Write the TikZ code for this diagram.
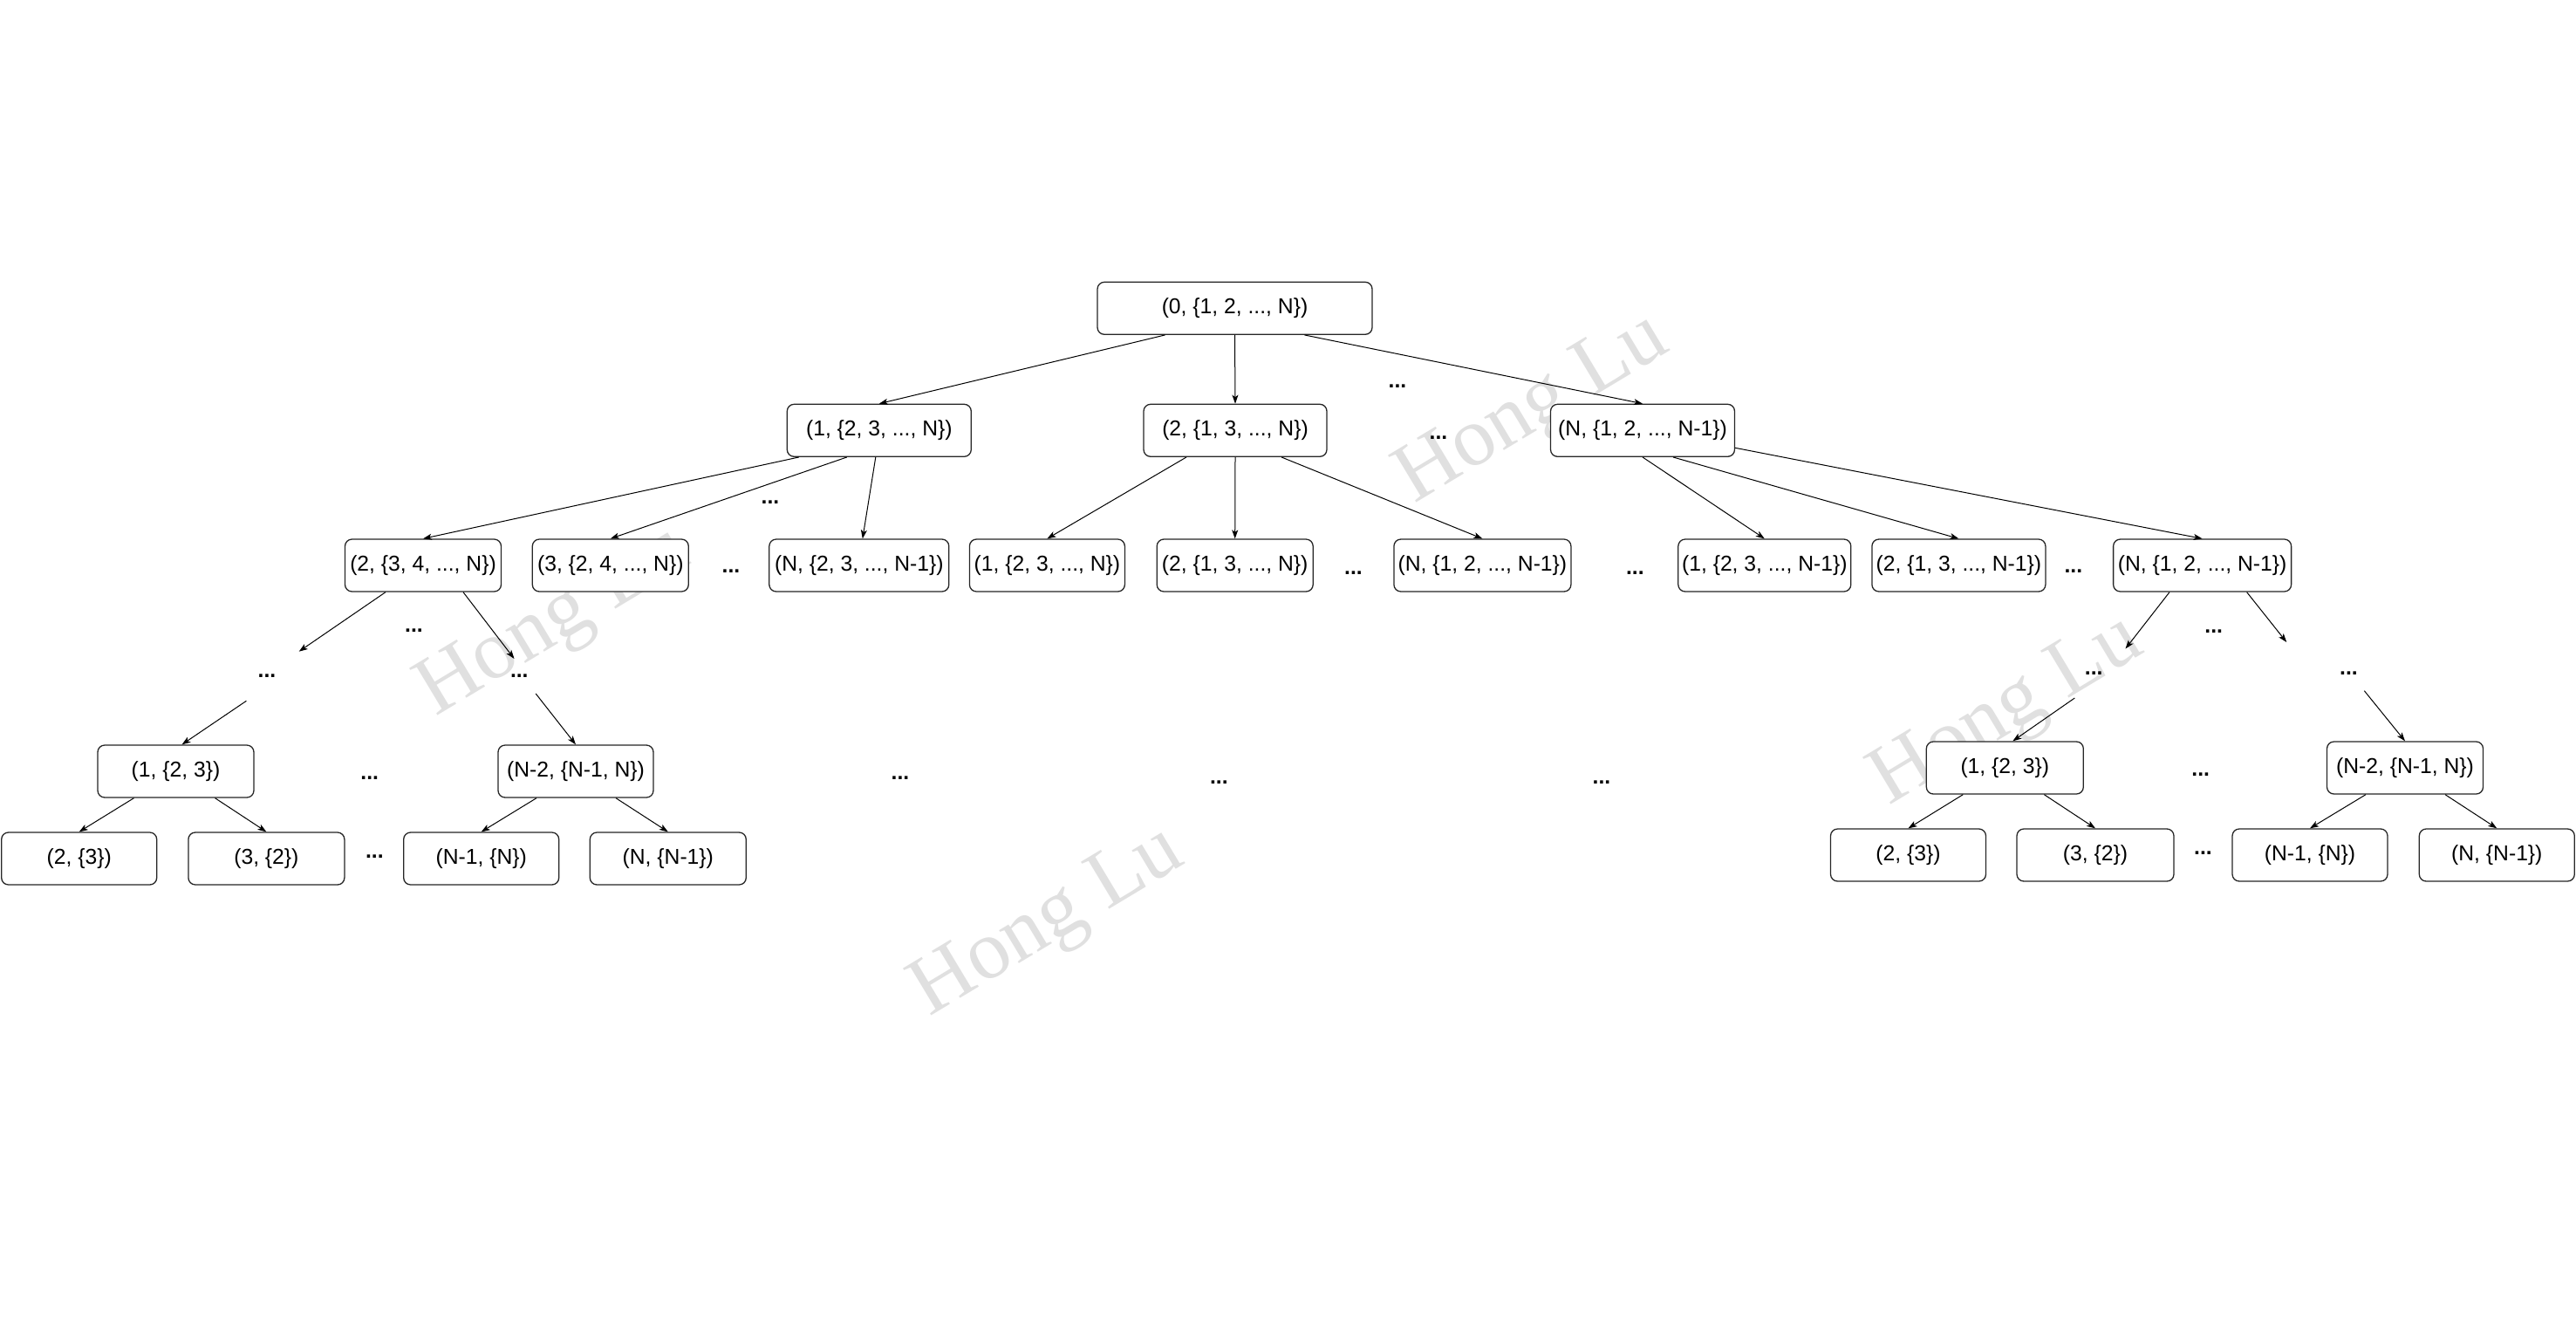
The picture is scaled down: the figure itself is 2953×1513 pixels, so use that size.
\documentclass[tikz,border=0pt]{standalone}
\usepackage{fontspec}
\setmainfont{Liberation Sans}
\newfontfamily\wmfont{Liberation Serif}
\usetikzlibrary{arrows.meta}
\begin{document}
\begin{tikzpicture}[x=1pt,y=-1pt,
  box/.style={draw=black!85, line width=1.3pt, rounded corners=8pt, fill=white,
    minimum height=60pt, inner sep=0pt, font=\fontsize{24.7}{30}\selectfont},
  dots/.style={font=\fontsize{24.7}{30}\selectfont\bfseries, inner sep=0pt},
  edge/.style={line width=1pt, draw=black, -{Stealth[length=10pt,width=7pt,inset=2.5pt]}},
  wm/.style={font=\fontsize{96}{100}\selectfont\wmfont, text=black!12, rotate=31,
    anchor=base, inner sep=0pt}]
\fill[white] (0,0) rectangle (2953,1513);
\useasboundingbox (0,0) rectangle (2953,1513);

% watermarks
\node[wm] (wm1) at (1769,489) {Hong Lu};
\node[wm] (wm2) at (647,733) {Hong Lu};
\node[wm] (wm3) at (2313,835) {Hong Lu};
\node[wm] (wm4) at (1213,1077) {Hong Lu};

% level 0
\node[box, minimum width=315pt] (root) at (1415.5,353.3) {(0, \{1, 2, ..., N\})};
% level 1
\node[box, minimum width=211pt] (A1) at (1007.8,493.3) {(1, \{2, 3, ..., N\})};
\node[box, minimum width=210pt] (A2) at (1416,493.3) {(2, \{1, 3, ..., N\})};
\node[box, minimum width=211pt] (A3) at (1883,493.3) {(N, \{1, 2, ..., N-1\})};
% level 2
\node[box, minimum width=179pt] (B1) at (485,648) {(2, \{3, 4, ..., N\})};
\node[box, minimum width=179pt] (B2) at (699.8,648) {(3, \{2, 4, ..., N\})};
\node[box, minimum width=206pt] (B3) at (984.8,648) {(N, \{2, 3, ..., N-1\})};
\node[box, minimum width=178pt] (B4) at (1200.4,648) {(1, \{2, 3, ..., N\})};
\node[box, minimum width=179pt] (B5) at (1415.7,648) {(2, \{1, 3, ..., N\})};
\node[box, minimum width=203pt] (B6) at (1699.4,648) {(N, \{1, 2, ..., N-1\})};
\node[box, minimum width=198pt] (B7) at (2022.8,648) {(1, \{2, 3, ..., N-1\})};
\node[box, minimum width=199pt] (B8) at (2245.4,648) {(2, \{1, 3, ..., N-1\})};
\node[box, minimum width=204pt] (B9) at (2524.6,648) {(N, \{1, 2, ..., N-1\})};
% level 4
\node[box, minimum width=179pt] (C1) at (201.5,884) {(1, \{2, 3\})};
\node[box, minimum width=178pt] (C2) at (660,884) {(N-2, \{N-1, N\})};
\node[box, minimum width=180pt] (C3) at (2298.3,880) {(1, \{2, 3\})};
\node[box, minimum width=179pt] (C4) at (2757,880) {(N-2, \{N-1, N\})};
% level 5
\node[box, minimum width=178pt] (D1) at (90.7,984) {(2, \{3\})};
\node[box, minimum width=179pt] (D2) at (305.4,984) {(3, \{2\})};
\node[box, minimum width=178pt] (D3) at (551.7,984) {(N-1, \{N\})};
\node[box, minimum width=179pt] (D4) at (765.8,984) {(N, \{N-1\})};
\node[box, minimum width=178pt] (D5) at (2187.5,980) {(2, \{3\})};
\node[box, minimum width=180pt] (D6) at (2402,980) {(3, \{2\})};
\node[box, minimum width=178pt] (D7) at (2648,980) {(N-1, \{N\})};
\node[box, minimum width=178pt] (D8) at (2862.3,980) {(N, \{N-1\})};

% ellipsis labels
\node[dots] (e1) at (1602,443) {...};
\node[dots] (e2) at (1649,502) {...};
\node[dots] (e3) at (883,576) {...};
\node[dots] (e4) at (838,655) {...};
\node[dots] (e5) at (1551.5,656.7) {...};
\node[dots] (e6) at (1874.4,656.7) {...};
\node[dots] (e7) at (2376.8,655) {...};
\node[dots] (f1) at (306,775) {...};
\node[dots] (f2) at (474.5,723) {...};
\node[dots] (f3) at (595.3,775) {...};
\node[dots] (f4) at (2400.2,771.7) {...};
\node[dots] (f5) at (2537.7,723.3) {...};
\node[dots] (f6) at (2692.5,771.7) {...};
\node[dots] (g1) at (423.7,891.7) {...};
\node[dots] (g2) at (1032,892) {...};
\node[dots] (g3) at (1397.4,896.5) {...};
\node[dots] (g4) at (1836,896.5) {...};
\node[dots] (g5) at (2522.7,887.3) {...};
\node[dots] (h1) at (429.4,981.7) {...};
\node[dots] (h2) at (2525.4,977.7) {...};

% free ends
\coordinate (p1) at (342.7,746.7);
\coordinate (p2) at (589.5,755);
\coordinate (q1) at (282.4,803.3);
\coordinate (q2) at (614.2,795);
\coordinate (p3) at (2436.5,743.5);
\coordinate (p4) at (2621.2,736);
\coordinate (q3) at (2378.3,800);
\coordinate (q4) at (2710.3,791.7);

% edges
\draw[edge] ([xshift=-80pt]root.south) -- (A1.north);
\draw[edge] (root.south) -- (A2.north);
\draw[edge] ([xshift=80pt]root.south) -- (A3.north);

\draw[edge] ([xshift=-92pt]A1.south) -- (B1.north);
\draw[edge] ([xshift=-37pt]A1.south) -- (B2.north);
\draw[edge] ([xshift=-4pt]A1.south) -- ([xshift=4pt]B3.north);
\draw[edge] ([xshift=-56pt]A2.south) -- (B4.north);
\draw[edge] (A2.south) -- (B5.north);
\draw[edge] ([xshift=53pt]A2.south) -- (B6.north);
\draw[edge] (A3.south) -- (B7.north);
\draw[edge] ([xshift=35pt]A3.south) -- (B8.north);
\draw[edge] ([yshift=-20pt]A3.east) -- (B9.north);

\draw[edge] ([xshift=-43pt]B1.south) -- (p1);
\draw[edge] ([xshift=46pt]B1.south) -- (p2);
\draw[edge] (q1) -- ([xshift=7pt]C1.north);
\draw[edge] (q2) -- (C2.north);
\draw[edge] ([xshift=-48pt]C1.south) -- (D1.north);
\draw[edge] ([xshift=45pt]C1.south) -- (D2.north);
\draw[edge] ([xshift=-45pt]C2.south) -- (D3.north);
\draw[edge] ([xshift=46pt]C2.south) -- (D4.north);

\draw[edge] ([xshift=-37.6pt]B9.south) -- (p3);
\draw[edge] ([xshift=51pt]B9.south) -- (p4);
\draw[edge] (q3) -- ([xshift=9pt]C3.north);
\draw[edge] (q4) -- (C4.north);
\draw[edge] ([xshift=-48pt]C3.south) -- (D5.north);
\draw[edge] ([xshift=45pt]C3.south) -- (D6.north);
\draw[edge] ([xshift=-45pt]C4.south) -- (D7.north);
\draw[edge] ([xshift=46pt]C4.south) -- (D8.north);
\end{tikzpicture}
\end{document}
